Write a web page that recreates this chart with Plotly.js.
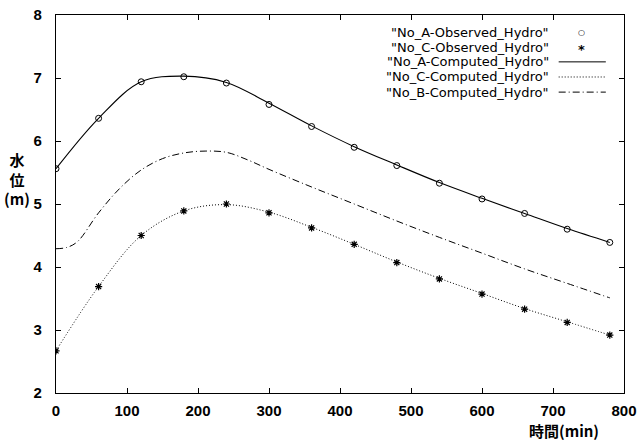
<!DOCTYPE html>
<html>
<head>
<meta charset="utf-8">
<script src="https://cdn.plot.ly/plotly-3.0.1.min.js"></script>
<style>html,body{margin:0;padding:0;background:#fff;}#chart{width:639px;height:442px;}</style>
</head>
<body>
<div id="chart"></div>
<script>
// Observation times (min)
var timeObs = [0, 60, 120, 180, 240, 300, 360, 420, 480, 540, 600, 660, 720, 780];
// Observed water levels (m)
var aObserved = [5.56, 6.36, 6.94, 7.02, 6.92, 6.58, 6.23, 5.90, 5.61, 5.33, 5.08, 4.85, 4.60, 4.39];
var cObserved = [2.67, 3.69, 4.50, 4.89, 5.00, 4.86, 4.62, 4.36, 4.07, 3.81, 3.57, 3.33, 3.12, 2.92];
// Computed hydrographs
var timeA = [0, 60, 120, 180, 240, 300, 360, 420, 480, 540, 600, 660, 720, 780];
var aComputed = [5.56, 6.36, 6.94, 7.03, 6.93, 6.60, 6.24, 5.91, 5.62, 5.34, 5.09, 4.85, 4.61, 4.39];
var timeC = [0, 60, 120, 180, 240, 300, 360, 420, 480, 540, 600, 660, 720, 780];
var cComputed = [2.67, 3.69, 4.50, 4.89, 4.99, 4.87, 4.63, 4.36, 4.08, 3.82, 3.58, 3.34, 3.13, 2.92];
var timeB = [0, 15, 30, 60, 90, 120, 150, 180, 210, 240, 270, 300, 360, 420, 480, 540, 600, 660, 720, 780];
var bComputed = [4.29, 4.31, 4.40, 4.86, 5.25, 5.54, 5.72, 5.81, 5.84, 5.82, 5.70, 5.55, 5.27, 5.00, 4.73, 4.47, 4.22, 3.97, 3.74, 3.51];
// Legend labels
var legendLabels = ['"No_A-Observed_Hydro"', '"No_C-Observed_Hydro"', '"No_A-Computed_Hydro"', '"No_C-Computed_Hydro"', '"No_B-Computed_Hydro"'];
var xTickVals = [0, 100, 200, 300, 400, 500, 600, 700, 800];
var yTickVals = [2, 3, 4, 5, 6, 7, 8];

var dashB = '7px,3px,1px,3px';
var dashC = '1px,2px';
var traces = [
  {x: timeA, y: aComputed, mode: 'lines', line: {color: '#000', width: 1.1, shape: 'spline', smoothing: 1}, name: legendLabels[2]},
  {x: timeC, y: cComputed, mode: 'lines', line: {color: '#000', width: 1, dash: dashC, shape: 'spline', smoothing: 1}, name: legendLabels[3]},
  {x: timeB, y: bComputed, mode: 'lines', line: {color: '#000', width: 1, dash: dashB, shape: 'spline', smoothing: 1}, name: legendLabels[4]},
  {x: timeObs, y: aObserved, mode: 'markers', marker: {symbol: 'circle-open', size: 6, color: '#000', line: {width: 1}}, name: legendLabels[0]},
  {x: timeObs, y: cObserved, mode: 'markers', marker: {symbol: 'asterisk-open', size: 6, color: '#000', line: {width: 1.2}}, name: legendLabels[1]}
];

var tickFont = {family: 'Liberation Sans, Arial, sans-serif', size: 15, color: '#000', weight: 'bold'};
var legFont = {family: 'DejaVu Sans, sans-serif', size: 13, color: '#000'};

var legendRowY = [0.955, 0.915, 0.876, 0.836, 0.796];
var annotations = [];
var shapes = [];
for (var i = 0; i < legendLabels.length; i++) {
  annotations.push({xref: 'paper', yref: 'paper', x: 0.871, y: legendRowY[i], text: legendLabels[i], showarrow: false, xanchor: 'right', yanchor: 'middle', font: legFont});
}
// legend samples
annotations.push({xref: 'paper', yref: 'paper', x: 0.925, y: legendRowY[0], text: '○', showarrow: false, xanchor: 'center', yanchor: 'middle', font: {family: 'DejaVu Sans', size: 8, color: '#000'}});
annotations.push({xref: 'paper', yref: 'paper', x: 0.925, y: legendRowY[1] - 0.006, text: '*', showarrow: false, xanchor: 'center', yanchor: 'middle', font: {family: 'DejaVu Sans', size: 13, color: '#000', weight: 'bold'}});
var sampleDash = ['solid', dashC, dashB];
for (var j = 0; j < 3; j++) {
  shapes.push({type: 'line', xref: 'paper', yref: 'paper', x0: 0.885, x1: 0.968, y0: legendRowY[2 + j], y1: legendRowY[2 + j], line: {color: '#000', width: 1, dash: sampleDash[j]}});
}
// axis titles
annotations.push({xref: 'paper', yref: 'paper', x: -0.068, y: 0.565, text: '<b>水</b><br><b>位</b><br><b>(m)</b>', showarrow: false, xanchor: 'center', yanchor: 'middle', align: 'center', font: {family: 'Noto Sans CJK JP', size: 15, color: '#000'}});
annotations.push({xref: 'paper', yref: 'paper', x: 0.895, y: -0.098, text: '<b>時間(min)</b>', showarrow: false, xanchor: 'center', yanchor: 'middle', font: {family: 'Noto Sans CJK JP', size: 15, color: '#000'}});

var layout = {
  width: 639, height: 442,
  margin: {l: 56, r: 15, t: 15, b: 49},
  paper_bgcolor: '#fff', plot_bgcolor: '#fff',
  showlegend: false,
  xaxis: {range: [0, 800], tickvals: xTickVals, ticks: 'inside', ticklen: 5, tickcolor: '#000', mirror: 'ticks', showline: true, linecolor: '#000', linewidth: 1.2, showgrid: false, zeroline: false, tickfont: tickFont, ticklabelstandoff: 4},
  yaxis: {range: [2, 8], tickvals: yTickVals, ticks: 'inside', ticklen: 5, tickcolor: '#000', mirror: 'ticks', showline: true, linecolor: '#000', linewidth: 1.2, showgrid: false, zeroline: false, tickfont: tickFont, ticklabelstandoff: 10},
  annotations: annotations,
  shapes: shapes
};
Plotly.newPlot('chart', traces, layout, {displayModeBar: false, staticPlot: true});
</script>
</body>
</html>
